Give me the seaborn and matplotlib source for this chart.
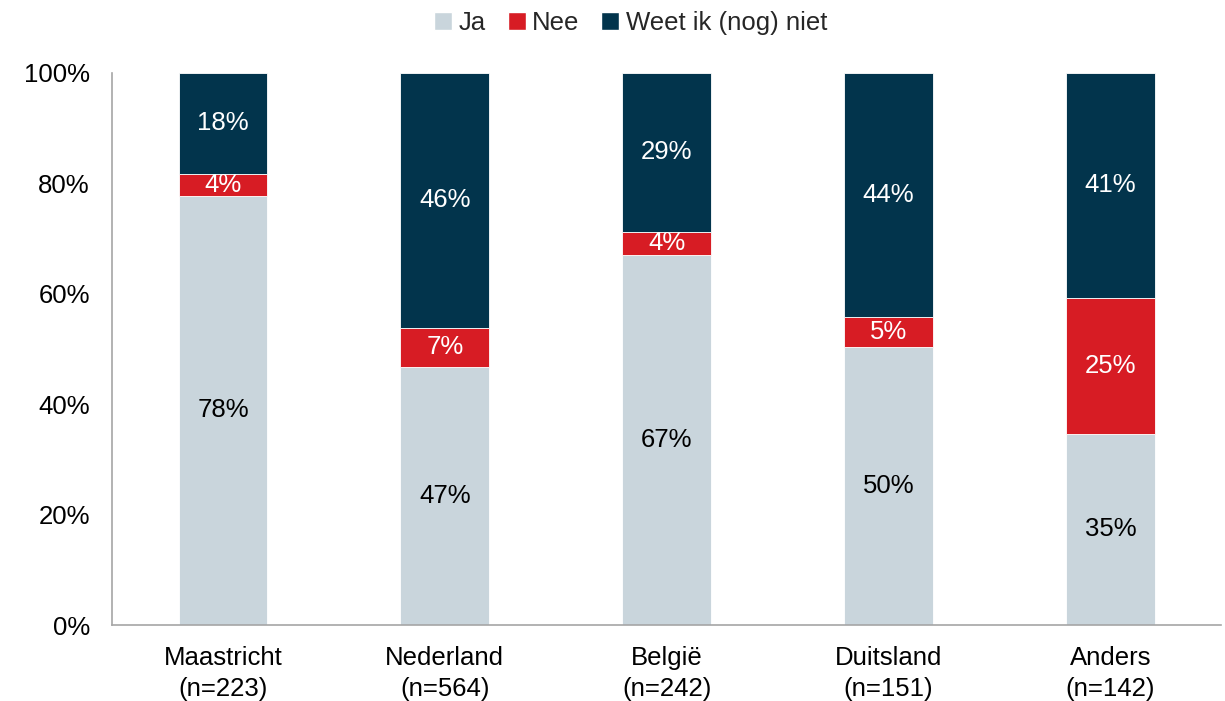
import matplotlib
matplotlib.use("Agg")
import matplotlib.pyplot as plt
import seaborn as sns
import numpy as np
from matplotlib.patches import Patch

categories = ["Maastricht\n(n=223)", "Nederland\n(n=564)", "België\n(n=242)",
              "Duitsland\n(n=151)", "Anders\n(n=142)"]
ja = [77.8, 46.8, 67.1, 50.4, 34.7]
nee = [3.9, 7.1, 4.1, 5.4, 24.6]
weet = [18.3, 46.1, 28.8, 44.2, 40.7]

series_names = ["Ja", "Nee", "Weet ik (nog) niet"]
series_values = [ja, nee, weet]
colors = ["#C9D5DC", "#D71C24", "#02344C"]
text_colors = ["black", "white", "white"]

sns.set_style("white")
plt.rcParams["font.family"] = ["Liberation Sans", "DejaVu Sans"]

fig, ax = plt.subplots(figsize=(12.25, 7.01), dpi=100)
fig.subplots_adjust(left=0.0915, right=0.997, top=0.896, bottom=0.108)

bottoms = np.zeros(len(categories))
for name, vals, col, tcol in zip(series_names, series_values, colors, text_colors):
    vals = np.array(vals)
    sns.barplot(x=categories, y=vals, bottom=bottoms, color=col, width=0.4,
                saturation=1, edgecolor="white", linewidth=0.6, ax=ax)
    for i, v in enumerate(vals):
        ax.text(i, bottoms[i] + v / 2, f"{v:.0f}%", ha="center", va="center",
                fontsize=18.5, color=tcol)
    bottoms = bottoms + vals

ax.set_xlim(-0.5, 4.5)
ax.set_ylim(0, 100)
ax.set_yticks(range(0, 101, 20))
ax.set_yticklabels([f"{t}%" for t in range(0, 101, 20)])
ax.tick_params(axis="both", labelsize=18.5, length=0, colors="black")
ax.tick_params(axis="y", pad=16)
ax.tick_params(axis="x", pad=15)
for lbl in ax.get_xticklabels():
    lbl.set_linespacing(1.35)
ax.set_xlabel("")
ax.set_ylabel("")

for s in ["top", "right"]:
    ax.spines[s].set_visible(False)
for s in ["left", "bottom"]:
    ax.spines[s].set_color("#A6A6A6")
    ax.spines[s].set_linewidth(1.2)

handles = [Patch(facecolor=c, label=n) for n, c in zip(series_names, colors)]
fig.legend(handles=handles, loc="upper center", bbox_to_anchor=(0.515, 1.018),
           ncol=3, frameon=False, fontsize=18.5, handlelength=0.7, handleheight=0.7,
           handletextpad=0.25, columnspacing=0.85)

fig.savefig("out.png", dpi=100)
